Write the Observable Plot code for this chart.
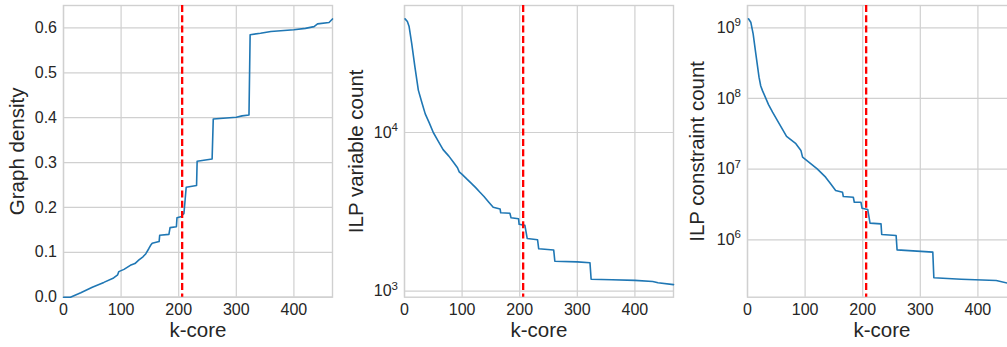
<!DOCTYPE html>
<html>
<head>
<meta charset="utf-8">
<script src="https://cdn.jsdelivr.net/npm/d3@7"></script>
<script src="https://cdn.jsdelivr.net/npm/@observablehq/plot@0.6"></script>
<style>
  html, body { margin: 0; padding: 0; background: #fff; overflow: hidden; }
  #fig { position: relative; width: 1007px; height: 347px; overflow: hidden; }
  #fig svg { position: absolute; top: 0; max-width: none; }
</style>
</head>
<body>
<div id="fig"></div>
<script>
// k-core threshold marked on every panel
const selectedK = [206];

// Panel 1: graph density of each k-core
const densityK = [0, 12, 30, 50, 70, 87, 94, 96, 105, 116, 124, 131, 138, 143, 148, 151, 154, 166, 167, 183, 185, 196, 197, 205, 206, 209, 211, 213, 231, 232, 258, 260, 300, 310, 322, 324, 342, 360, 400, 420, 435, 441, 461, 467];
const densityV = [0, 0, 0.010, 0.022, 0.033, 0.043, 0.050, 0.057, 0.062, 0.071, 0.075, 0.083, 0.090, 0.097, 0.108, 0.115, 0.120, 0.124, 0.138, 0.140, 0.155, 0.157, 0.177, 0.180, 0.183, 0.186, 0.215, 0.245, 0.249, 0.303, 0.308, 0.397, 0.401, 0.404, 0.406, 0.585, 0.588, 0.592, 0.596, 0.599, 0.603, 0.609, 0.612, 0.620];

// Panel 2: number of ILP variables
const variableK = [1, 5, 8, 12.5, 18, 24, 30, 36, 43, 50, 58, 67, 77, 85, 92, 95, 100, 108, 117, 124, 131, 138, 146, 154, 166, 167, 183, 185, 198, 199, 209, 213, 231, 233, 259, 261, 300, 322, 324, 360, 400, 431, 440, 467];
const variableV = [52000, 50000, 46500, 36500, 26000, 18500, 15500, 13100, 11500, 10000, 8900, 7800, 7100, 6500, 6000, 5650, 5450, 5100, 4750, 4480, 4200, 3950, 3650, 3380, 3300, 3120, 3100, 2900, 2860, 2640, 2600, 2150, 2110, 1850, 1820, 1545, 1530, 1510, 1190, 1180, 1170, 1150, 1130, 1100];

// Panel 3: number of ILP constraints
const constraintK = [1.7, 5.7, 9.8, 14.4, 20, 23, 26, 36.5, 43.5, 55, 67.8, 84, 92.7, 95.6, 107, 121, 135.6, 144.3, 153, 165, 166.3, 183.7, 185.4, 197, 198.8, 208.7, 212.7, 231.8, 233, 258, 259.7, 321.7, 323.5, 371, 431.8, 452, 467];
const constraintV = [1.34e9, 1.2e9, 8.2e8, 4.3e8, 2.0e8, 1.5e8, 1.29e8, 8.2e7, 6.4e7, 4.4e7, 2.9e7, 2.29e7, 1.84e7, 1.48e7, 1.25e7, 1.01e7, 7.7e6, 6.2e6, 5.0e6, 4.7e6, 4.1e6, 4.0e6, 3.4e6, 3.4e6, 2.8e6, 2.69e6, 1.72e6, 1.68e6, 1.19e6, 1.15e6, 7.2e5, 6.7e5, 2.9e5, 2.77e5, 2.65e5, 2.43e5, 2.4e5];

// Tick values
const kTicks = [0, 100, 200, 300, 400];
const densityTicks = [0, 0.1, 0.2, 0.3, 0.4, 0.5, 0.6];
const variableTicks = [1e3, 1e4];
const constraintTicks = [1e6, 1e7, 1e8, 1e9];

const FONT = '"Liberation Sans", Arial, Helvetica, sans-serif';
const INK = "#262626";
const GRID = "#d0d0d0";
const BLUE = "#1f77b4";

// "10^n" labels, rewritten below as 10 with a raised exponent
const pow10 = d => "10^" + Math.round(Math.log10(d));

const ML = 63, MR = 2, FRAME_W = 269;

function raiseExponents(svg) {
  svg.querySelectorAll('g[aria-label="y-axis tick label"] text').forEach(t => {
    const s = t.textContent;
    if (!s.includes("^")) return;
    const [base, exp] = s.split("^");
    t.textContent = base;
    const sup = document.createElementNS("http://www.w3.org/2000/svg", "tspan");
    sup.setAttribute("font-size", "11.5");
    sup.setAttribute("dy", "-6.6");
    sup.textContent = exp;
    t.appendChild(sup);
  });
}

function panel({left, k, v, y, yTicks, yFormat, yLabel, yLabelOffset}) {
  const rows = k.map((x, i) => ({k: x, v: v[i]}));
  const svg = Plot.plot({
    width: ML + FRAME_W + MR,
    height: 347,
    marginLeft: ML,
    marginRight: MR,
    marginTop: 5,
    marginBottom: 50.3,
    style: {fontFamily: FONT, color: INK, background: "transparent", overflow: "visible"},
    x: {domain: [0, 467]},
    y,
    marks: [
      Plot.gridX(kTicks, {stroke: GRID, strokeOpacity: 1, strokeWidth: 1.2}),
      Plot.gridY(yTicks, {stroke: GRID, strokeOpacity: 1, strokeWidth: 1.2}),
      Plot.frame({stroke: GRID, strokeWidth: 1.4}),
      Plot.axisX(kTicks, {tickSize: 0, tickPadding: 6.6, fontSize: 16, label: null}),
      Plot.axisX([], {tickSize: 0, fontSize: 20.5, label: "k-core", labelAnchor: "center", labelArrow: "none", labelOffset: 39.7}),
      Plot.axisY(yTicks, {tickSize: 0, tickPadding: 6.5, fontSize: 16, tickFormat: yFormat, label: null}),
      Plot.axisY([], {tickSize: 0, fontSize: 20.5, label: yLabel, labelAnchor: "center", labelArrow: "none", labelOffset: yLabelOffset}),
      Plot.line(rows, {x: "k", y: "v", stroke: BLUE, strokeWidth: 1.6}),
      Plot.ruleX(selectedK, {stroke: "#ff0000", strokeWidth: 2.3, strokeDasharray: "7,3.3"})
    ]
  });
  raiseExponents(svg);
  svg.style.left = left + "px";
  document.getElementById("fig").appendChild(svg);
}

panel({
  left: 0,
  k: densityK, v: densityV,
  y: {domain: [0, 0.65]},
  yTicks: densityTicks, yFormat: d3.format(".1f"),
  yLabel: "Graph density", yLabelOffset: 53.7
});

panel({
  left: 404.3 - ML,
  k: variableK, v: variableV,
  y: {type: "log", domain: [916.7, 63140]},
  yTicks: variableTicks, yFormat: pow10,
  yLabel: "ILP variable count", yLabelOffset: 56
});

panel({
  left: 746.7 - ML,
  k: constraintK, v: constraintV,
  y: {type: "log", domain: [1.541e5, 2.068e9]},
  yTicks: constraintTicks, yFormat: pow10,
  yLabel: "ILP constraint count", yLabelOffset: 58.4
});
</script>
</body>
</html>
